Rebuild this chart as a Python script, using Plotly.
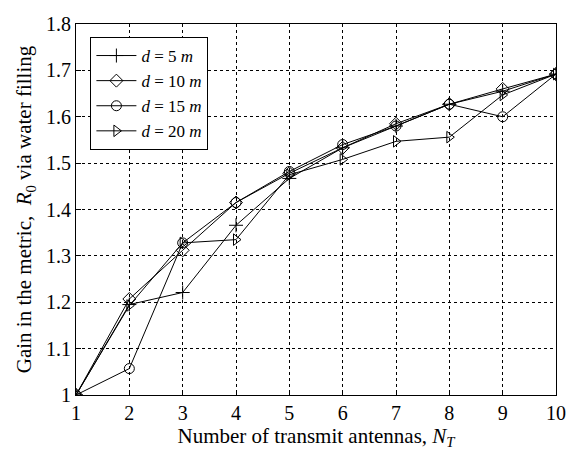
import plotly.graph_objects as go

n_tx = [1, 2, 3, 4, 5, 6, 7, 8, 9, 10]
gain_d5 = [1.0, 1.195, 1.221, 1.366, 1.467, 1.533, 1.580, 1.627, 1.655, 1.692]
gain_d10 = [1.0, 1.207, 1.312, 1.415, 1.478, 1.533, 1.585, 1.627, 1.660, 1.692]
gain_d15 = [1.0, 1.057, 1.328, 1.415, 1.482, 1.540, 1.580, 1.627, 1.600, 1.692]
gain_d20 = [1.0, 1.193, 1.328, 1.335, 1.475, 1.508, 1.547, 1.556, 1.647, 1.692]
labels = ["<i>d</i> = 5 <i>m</i>", "<i>d</i> = 10 <i>m</i>", "<i>d</i> = 15 <i>m</i>", "<i>d</i> = 20 <i>m</i>"]
symbols = ["cross-thin-open", "diamond-open", "circle-open", "triangle-right-open"]
series = [gain_d5, gain_d10, gain_d15, gain_d20]
x_ticks = [1, 2, 3, 4, 5, 6, 7, 8, 9, 10]
y_ticks = [1.0, 1.1, 1.2, 1.3, 1.4, 1.5, 1.6, 1.7, 1.8]
y_tick_text = ["1", "1.1", "1.2", "1.3", "1.4", "1.5", "1.6", "1.7", "1.8"]

font_family = "Liberation Serif"
fig = go.Figure()
for ys, lab, sym in zip(series, labels, symbols):
    fig.add_trace(go.Scatter(
        x=n_tx, y=ys, name=lab, mode="lines+markers",
        line=dict(color="black", width=1),
        marker=dict(symbol=sym, size=10, color="black",
                    line=dict(color="black", width=1)),
    ))

axis_common = dict(
    showline=True, linecolor="black", linewidth=1, mirror=True,
    ticks="inside", ticklen=5, tickcolor="black",
    showgrid=True, gridcolor="black", gridwidth=1, griddash="dot",
    zeroline=False, tickfont=dict(family=font_family, size=20, color="black"),
)
fig.update_xaxes(range=[1, 10], tickvals=x_ticks,
                 title=dict(text="Number of transmit antennas, <i>N</i><sub><i>T</i></sub>",
                            font=dict(family=font_family, size=21, color="black"), standoff=0),
                 **axis_common)
fig.update_yaxes(range=[1, 1.8], tickvals=y_ticks, ticktext=y_tick_text,
                 title=dict(text="Gain in the metric,  <i>R</i><sub>0</sub> via water filling",
                            font=dict(family=font_family, size=21, color="black"), standoff=8),
                 **axis_common)
fig.update_layout(
    width=578, height=451,
    margin=dict(l=76, r=16, t=24, b=47),
    paper_bgcolor="white", plot_bgcolor="white",
    font=dict(family=font_family, color="black"),
    legend=dict(x=0.03, y=0.965, xanchor="left", yanchor="top",
                bgcolor="white", bordercolor="black", borderwidth=1,
                font=dict(family=font_family, size=17, color="black"),
                tracegroupgap=0, itemwidth=40),
)
fig.write_html("out.html")
